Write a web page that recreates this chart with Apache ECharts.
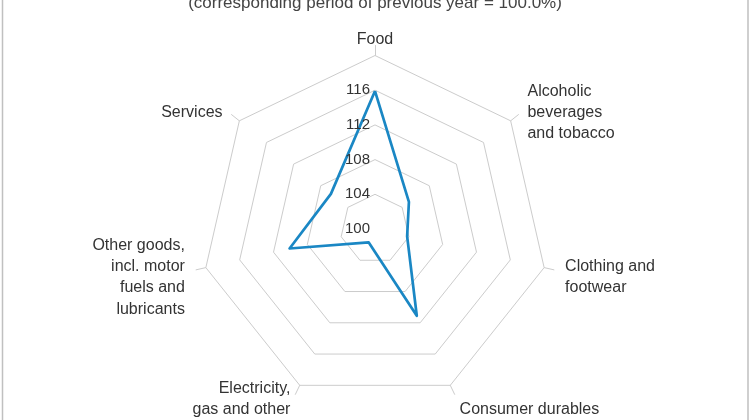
<!DOCTYPE html>
<html>
<head>
<meta charset="utf-8">
<script src="https://cdn.jsdelivr.net/npm/echarts@6/dist/echarts.min.js"></script>
<style>
  html, body { margin: 0; padding: 0; background: #fff; }
  #chart { width: 750px; height: 420px; }
</style>
</head>
<body>
<div id="chart"></div>
<script>
// ---- data ----
const subtitleText = '(corresponding period of previous year = 100.0%)';
const categories = [
  'Food',
  'Alcoholic\nbeverages\nand tobacco',
  'Clothing and\nfootwear',
  'Consumer durables',
  'Electricity,\ngas and other\nfuels',
  'Other goods,\nincl. motor\nfuels and\nlubricants',
  'Services'
];
const values = [115.9, 105.0, 103.8, 111.1, 101.7, 110.1, 106.5];
const tickLabels = [100, 104, 108, 112, 116];
const axisMin = 100;
const axisMax = 120;

// ECharts places radar indicators counter-clockwise; reorder so the
// categories run clockwise as in the reference.
const order = [0, 6, 5, 4, 3, 2, 1];
const cats = order.map(i => categories[i]);
const vals = order.map(i => values[i]);

const FONT = 'Liberation Sans, Arial, sans-serif';
const CX = 375, CY = 229, R = 173.5;
const gridColor = '#cccccc';
const textColor = '#333333';

const hidden = {
  axisLine: { show: false },
  axisTick: { show: false },
  axisLabel: { show: false },
  splitLine: { show: false },
  splitArea: { show: false }
};

const chart = echarts.init(document.getElementById('chart'), null, { renderer: 'canvas' });
chart.setOption({
  animation: false,
  backgroundColor: '#ffffff',
  title: {
    text: subtitleText,
    left: 'center',
    top: -10,
    textStyle: { fontSize: 17, fontWeight: 'normal', color: '#444', fontFamily: FONT }
  },
  graphic: [{
    type: 'rect',
    shape: { x: 2.5, y: -5, width: 745.5, height: 440 },
    style: { fill: 'none', stroke: '#c0c0c0', lineWidth: 1.5 },
    silent: true
  }],
  radar: [
    {
      // main grid
      center: [CX, CY],
      radius: R,
      startAngle: 90,
      shape: 'polygon',
      splitNumber: 5,
      z: 2,
      indicator: cats.map(() => ({ name: '', min: axisMin, max: axisMax })),
      axisLine: { show: false },
      axisTick: { show: false },
      axisLabel: { show: false },
      splitLine: { lineStyle: { color: gridColor, width: 1 } },
      splitArea: { show: true, areaStyle: { color: ['#ffffff'], opacity: 1 } }
    },
    {
      // outward tick marks + top label
      center: [CX, CY],
      radius: R + 10,
      startAngle: 90,
      shape: 'polygon',
      splitNumber: 5,
      z: 1,
      axisNameGap: -2,
      axisName: { color: textColor, fontSize: 16, lineHeight: 16, fontFamily: FONT },
      indicator: cats.map((c, i) => ({ name: i === 0 ? c : '', min: axisMin, max: axisMax })),
      axisLine: { show: true, lineStyle: { color: gridColor, width: 1 } },
      axisTick: { show: false },
      axisLabel: { show: false },
      splitLine: { show: false },
      splitArea: { show: false }
    },
    {
      // value labels on the first axis
      center: [CX, CY],
      radius: R,
      startAngle: 90,
      shape: 'polygon',
      splitNumber: 5,
      z: 4,
      indicator: [{ name: '', min: axisMin, max: axisMax }],
      axisLine: { show: false },
      axisTick: { show: false },
      axisLabel: {
        show: true,
        color: textColor,
        fontSize: 15,
        fontFamily: FONT,
        margin: 5,
        formatter: v => (tickLabels.indexOf(Math.round(v)) >= 0 ? String(Math.round(v)) : '')
      },
      splitLine: { show: false },
      splitArea: { show: false }
    },
    Object.assign({
      // category names (anchor shifted slightly down)
      center: [CX, CY + 5],
      radius: R,
      startAngle: 90,
      shape: 'polygon',
      splitNumber: 5,
      z: 4,
      axisNameGap: 21.5,
      axisName: { color: textColor, fontSize: 16, lineHeight: 21.3, fontFamily: FONT },
      indicator: cats.map((c, i) => ({ name: i === 0 ? '' : c, min: axisMin, max: axisMax }))
    }, hidden)
  ],
  series: [{
    type: 'radar',
    radarIndex: 0,
    z: 3,
    symbol: 'none',
    lineStyle: { color: '#1a87c4', width: 2.7 },
    data: [{ value: vals, name: 'Index' }]
  }]
});
</script>
</body>
</html>
